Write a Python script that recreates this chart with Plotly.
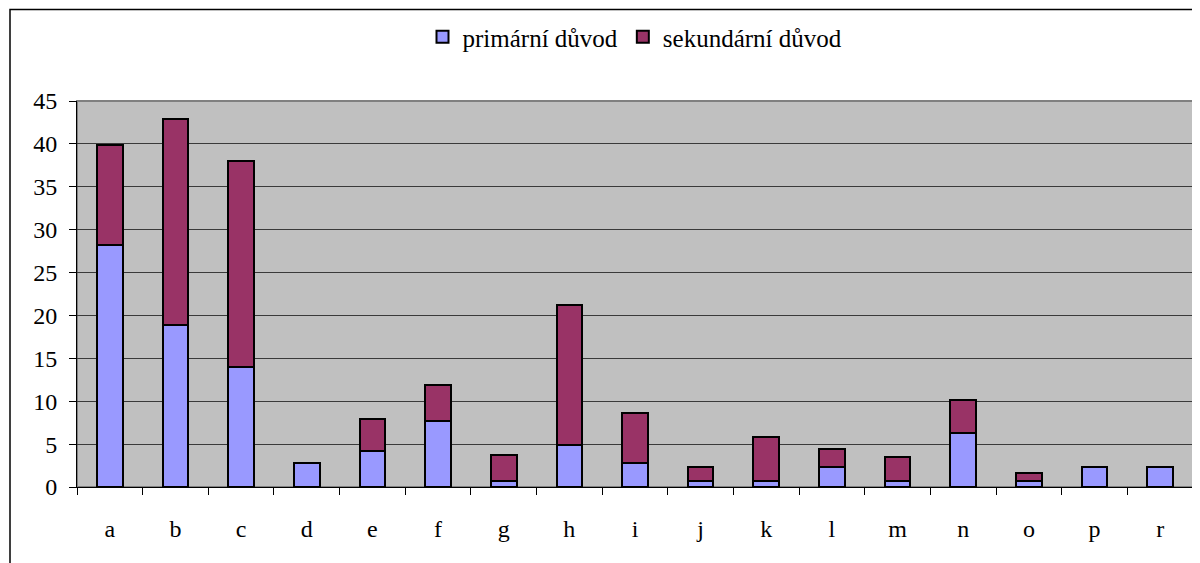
import plotly.graph_objects as go

categories = ["a", "b", "c", "d", "e", "f", "g", "h", "i", "j", "k", "l", "m", "n", "o", "p", "r"]
primary = [28.2, 18.85, 14.0, 2.8, 4.2, 7.66, 0.7, 4.86, 2.8, 0.7, 0.7, 2.33, 0.7, 6.3, 0.7, 2.33, 2.33]
secondary = [11.7, 24.05, 23.97, None, 3.73, 4.24, 3.0, 16.34, 5.83, 1.63, 5.13, 2.1, 2.8, 3.9, 0.93, None, None]
y_ticks = [0, 5, 10, 15, 20, 25, 30, 35, 40, 45]

# page body has an 8px margin, compensate so plot area lands at image px 77..1193 x 101..487
OFF = 8
W, H = 1200, 563
L, R, T, B = 77 - OFF, 1200 - 1193 + OFF, 101 - OFF, 563 - 487 + OFF
pw, ph = W - L - R, H - T - B

def px_x(p):  # image pixel -> paper x
    return (p - (L + OFF)) / pw

def px_y(p):  # image pixel -> paper y
    return ((T + OFF + ph) - p) / ph

FAM = "Liberation Serif"

fig = go.Figure()
fig.add_trace(go.Bar(x=categories, y=primary, name="primární důvod",
                     marker=dict(color="#9999FF", line=dict(color="black", width=2))))
fig.add_trace(go.Bar(x=categories, y=secondary, name="sekundární důvod",
                     marker=dict(color="#993366", line=dict(color="black", width=2))))

fig.update_layout(
    width=W, height=H,
    barmode="stack", bargap=0.61,
    margin=dict(l=L, r=R, t=T, b=B, pad=0, autoexpand=False),
    paper_bgcolor="white", plot_bgcolor="#C0C0C0",
    font=dict(family=FAM, size=24, color="black"),
    showlegend=True,
    legend=dict(orientation="h", x=0.5, xanchor="center", y=px_y(37), yanchor="middle",
                font=dict(family=FAM, size=25, color="black"),
                bgcolor="rgba(0,0,0,0)", traceorder="normal", itemwidth=30),
    xaxis=dict(type="category", showgrid=False, ticks="outside", tickson="boundaries",
               ticklen=7, tickcolor="black", tickwidth=1, showline=True, linecolor="black",
               linewidth=1, ticklabelstandoff=20, zeroline=False,
               tickfont=dict(family=FAM, size=24, color="black")),
    yaxis=dict(range=[0, 45], tickvals=y_ticks, showgrid=True, gridcolor="#3a3a3a", gridwidth=1,
               ticks="outside", ticklen=7, tickcolor="black", showline=True, linecolor="black",
               linewidth=1, ticklabelstandoff=7, zeroline=False,
               tickfont=dict(family=FAM, size=24, color="black")),
    shapes=[
        dict(type="rect", xref="paper", yref="paper", x0=0, x1=1, y0=0, y1=1,
             line=dict(color="#808080", width=2), layer="below"),
        dict(type="rect", xref="paper", yref="paper", x0=px_x(10), x1=px_x(1215),
             y0=px_y(580), y1=px_y(9.5), line=dict(color="black", width=1.5), layer="above"),
    ],
)

fig.write_html("out.html", config={"displayModeBar": False})
